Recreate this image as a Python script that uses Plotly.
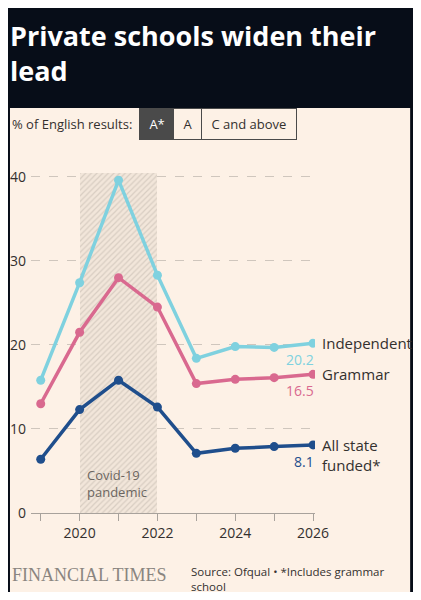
import plotly.graph_objects as go

years = [2019, 2020, 2021, 2022, 2023, 2024, 2025, 2026]
independent = [15.8, 27.4, 39.6, 28.3, 18.4, 19.8, 19.7, 20.2]
grammar = [13.0, 21.5, 28.0, 24.5, 15.4, 15.9, 16.1, 16.5]
state_funded = [6.4, 12.3, 15.8, 12.6, 7.1, 7.7, 7.9, 8.1]

series = [
    ("Independent", independent, "#7fd1df"),
    ("Grammar", grammar, "#d9698f"),
    ("All state<br>funded*", state_funded, "#1f4e8c"),
]

BG = "#070d18"
CREAM = "#fdf1e6"
TXT = "#33302e"
FONT = "Open Sans"

fig = go.Figure()

# covid shading, hatched
fig.add_trace(go.Bar(
    x=[2021], y=[40.5], width=[2],
    marker=dict(color="rgba(0,0,0,0)", line=dict(width=0),
                pattern=dict(shape="/", fgcolor="#bdb3a9", bgcolor="#f2e6da", size=4, solidity=0.3)),
    hoverinfo="skip", showlegend=False,
))

for name, vals, color in series:
    fig.add_trace(go.Scatter(
        x=years, y=vals, mode="lines+markers", name=name,
        line=dict(color=color, width=3.5),
        marker=dict(size=9, color=color), showlegend=False,
    ))
    two_line = "<br>" in name
    fig.add_annotation(x=years[-1], y=vals[-1], xref="x", yref="y", text=name,
                       showarrow=False, xanchor="left", xshift=7,
                       yanchor="top" if two_line else "middle",
                       yshift=12 if two_line else 0,
                       align="left", font=dict(size=15, color=TXT, family=FONT))
    fig.add_annotation(x=years[-1], y=vals[-1], xref="x", yref="y", text=f"{vals[-1]}",
                       showarrow=False, xanchor="right", yanchor="top", xshift=3, yshift=-5,
                       font=dict(size=14, color=color, family=FONT))

fig.add_annotation(x=2020.15, y=3.5, text="Covid-19<br>pandemic", showarrow=False,
                   xanchor="left", align="left", font=dict(size=13, color="#6b6560", family=FONT))

# cream panel
fig.add_shape(type="rect", xref="paper", yref="paper", x0=-0.074, x1=1.335, y0=-0.25, y1=1.147,
              fillcolor=CREAM, line=dict(width=0), layer="below")

# title
fig.add_annotation(xref="paper", yref="paper", x=-0.08, y=1.41, xanchor="left", yanchor="top",
                   text="Private schools widen their<br>lead", align="left", showarrow=False,
                   font=dict(size=27, color="#ffffff", family=FONT, weight="bold"))

# subtitle + buttons
fig.add_annotation(xref="paper", yref="paper", x=-0.074, y=1.102, xanchor="left", yanchor="middle",
                   text="% of English results:", showarrow=False,
                   font=dict(size=13, color=TXT, family=FONT))
buttons = [(" A* ", 0.38, "#4a4a4a", "#ffffff"), (" A ", 0.50, CREAM, TXT),
           (" C and above ", 0.60, CREAM, TXT)]
for label, x, bg, fg in buttons:
    fig.add_annotation(xref="paper", yref="paper", x=x, y=1.102, xanchor="left", yanchor="middle",
                       text=label, showarrow=False, bgcolor=bg, bordercolor="#4a4a4a", borderwidth=1,
                       borderpad=6, font=dict(size=13, color=fg, family=FONT))

# footer
fig.add_annotation(xref="paper", yref="paper", x=-0.074, y=-0.175, xanchor="left", yanchor="middle",
                   text="FINANCIAL TIMES", showarrow=False,
                   font=dict(size=18, color="#8a8580", family="Liberation Serif"))
fig.add_annotation(xref="paper", yref="paper", x=0.556, y=-0.187, xanchor="left", yanchor="middle",
                   text="Source: Ofqual • *Includes grammar<br>school", align="left", showarrow=False,
                   font=dict(size=11.5, color=TXT, family=FONT))

fig.update_layout(
    width=405, height=584,
    margin=dict(l=23, r=98, t=152, b=79),
    paper_bgcolor=BG, plot_bgcolor=CREAM,
    bargap=0,
    xaxis=dict(range=[2018.75, 2026.05], tickvals=[2020, 2022, 2024, 2026],
               showgrid=False, zeroline=False, showline=True, linecolor="#a8a29c",
               ticks="outside", ticklen=7, tickcolor="#a8a29c",
               minor=dict(tickvals=years, ticks="outside", ticklen=7, tickcolor="#a8a29c"),
               tickfont=dict(size=14, color=TXT, family=FONT)),
    yaxis=dict(range=[0, 42], tickvals=[0, 10, 20, 30, 40], showgrid=True,
               gridcolor="#cfc6bd", griddash="dash", zeroline=False,
               ticks="", ticklabelstandoff=4, automargin=False,
               tickfont=dict(size=14, color=TXT, family=FONT)),
)

fig.write_html("out.html")
